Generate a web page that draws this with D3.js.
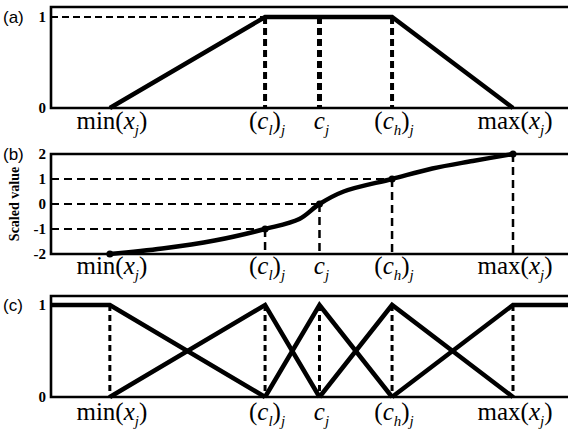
<!DOCTYPE html>
<html>
<head>
<meta charset="utf-8">
<script src="https://cdn.jsdelivr.net/npm/d3@7"></script>
<style>
  body { margin: 0; background: #fff; }
  svg { display: block; }
</style>
</head>
<body>
<svg id="chart" width="568" height="432"></svg>
<script>
// key points on the x axis (relative position, min = 0, max = 100)
const keyPos = [0, 38.5, 52, 70, 100];

// panel (a): trapezoid membership
const aX = [0, 38.5, 70, 100];
const aY = [0, 1, 1, 0];
const aTicks = [0, 1];

// panel (b): scaled value curve
const bX = [0, 13, 26, 38.5, 47, 52, 58, 70, 80, 90, 100];
const bY = [-2, -1.78, -1.46, -1, -0.6, 0, 0.5, 1, 1.42, 1.72, 2];
const bKeyY = [-2, -1, 0, 1, 2];
const bTicks = [-2, -1, 0, 1, 2];

// panel (c): five membership functions
const cSets = [
    { x: [-20, 0, 38.5], y: [1, 1, 0] },
    { x: [0, 38.5, 52], y: [0, 1, 0] },
    { x: [38.5, 52, 70], y: [0, 1, 0] },
    { x: [52, 70, 100], y: [0, 1, 0] },
    { x: [70, 100, 120], y: [0, 1, 1] }
];
const cTicks = [0, 1];

const svg = d3.select('#chart');
const x = d3.scaleLinear().domain([-14.6, 100]).range([51, 513]);
const xRight = 572;

const serif = '"Liberation Serif", "Times New Roman", Times, serif';

let line = d3.line()
    .x(function (d) { return x(d[0]); })
    .y(function (d) { return d[1]; });

// draws frame, ticks and panel letter, returns the y scale
function panel(letter, domain, yRange, top, ticks) {
    const y = d3.scaleLinear().domain(domain).range(yRange);
    const g = svg.append('g');
    // frame: top, left, bottom (open on the right)
    g.append('path')
        .attr('d', 'M' + xRight + ',' + top + 'H' + x.range()[0] + 'V' + y.range()[0] + 'H' + xRight)
        .attr('fill', 'none')
        .attr('stroke', '#000')
        .attr('stroke-width', 2.6);
    ticks.forEach(function (t) {
        g.append('text')
            .attr('x', 46)
            .attr('y', y(t))
            .attr('dy', '0.35em')
            .attr('text-anchor', 'end')
            .style('font-family', serif)
            .attr('font-weight', 'bold')
            .attr('font-size', 15)
            .text(t);
    });
    g.append('text')
        .attr('x', 3)
        .attr('y', y(ticks[ticks.length - 1]))
        .attr('dy', '0.35em')
        .style('font-family', 'Arial, "Liberation Sans", sans-serif')
        .attr('font-size', 17)
        .text('(' + letter + ')');
    return y;
}

// x labels: min(x_j), (c_l)_j, c_j, (c_h)_j, max(x_j)
function xLabels(baseY) {
    const parts = [
        [['min(', ''], ['x', 'i'], ['j', 'is'], [')', '']],
        [['(', ''], ['c', 'i'], ['l', 'is'], [')', ''], ['j', 'is']],
        [['c', 'i'], ['j', 'is']],
        [['(', ''], ['c', 'i'], ['h', 'is'], [')', ''], ['j', 'is']],
        [['max(', ''], ['x', 'i'], ['j', 'is'], [')', '']]
    ];
    parts.forEach(function (p, i) {
        const t = svg.append('text')
            .attr('x', x(keyPos[i]) + 2)
            .attr('y', baseY)
            .attr('text-anchor', 'middle')
            .style('font-family', serif)
            .attr('font-size', 25);
        let sub = false;
        p.forEach(function (s) {
            const ts = t.append('tspan').text(s[0]);
            if (s[1].indexOf('i') >= 0) ts.attr('font-style', 'italic');
            if (s[1] === 'is') {
                ts.attr('font-size', 15).attr('dy', sub ? 0 : 6);
                sub = true;
            } else if (sub) {
                ts.attr('dy', -6);
                sub = false;
            }
        });
    });
}

function dashed(x1, y1, x2, y2, w, dash) {
    svg.append('line')
        .attr('x1', x1).attr('y1', y1)
        .attr('x2', x2).attr('y2', y2)
        .attr('stroke', '#000')
        .attr('stroke-width', w)
        .attr('stroke-dasharray', dash);
}

// ---------- panel (a) ----------
const ya = panel('a', [0, 1], [108, 17], 7, aTicks);
dashed(x.range()[0], ya(1), x(keyPos[1]), ya(1), 2, '7,4');
[1, 2, 3].forEach(function (i) {
    dashed(x(keyPos[i]), ya(1), x(keyPos[i]), ya(0), i === 2 ? 5 : 4, '7,4');
});
svg.append('path')
    .attr('d', line(aX.map(function (v, i) { return [v, ya(aY[i])]; })))
    .attr('fill', 'none')
    .attr('stroke', '#000')
    .attr('stroke-width', 4.5);
xLabels(129);

// ---------- panel (b) ----------
const yb = panel('b', [-2, 2], [254, 154], 154, bTicks);
[1, 2, 3].forEach(function (i) {
    dashed(x.range()[0], yb(bKeyY[i]), x(keyPos[i]), yb(bKeyY[i]), 2, '8,5');
});
[1, 2, 3, 4].forEach(function (i) {
    dashed(x(keyPos[i]), yb(bKeyY[i]), x(keyPos[i]), yb(-2), 2.5, '8,5');
});
let smooth = d3.line()
    .x(function (d) { return x(d[0]); })
    .y(function (d) { return d[1]; })
    .curve(d3.curveCatmullRom.alpha(0.5));
svg.append('path')
    .attr('d', smooth(bX.map(function (v, i) { return [v, yb(bY[i])]; })))
    .attr('fill', 'none')
    .attr('stroke', '#000')
    .attr('stroke-width', 4.5)
    .attr('stroke-linecap', 'round');
keyPos.forEach(function (k, i) {
    svg.append('circle')
        .attr('cx', x(k))
        .attr('cy', yb(bKeyY[i]))
        .attr('r', 3.5)
        .attr('fill', '#000');
});
svg.append('text')
    .attr('transform', 'translate(19,' + yb(0) + ') rotate(-90)')
    .attr('text-anchor', 'middle')
    .style('font-family', serif)
    .attr('font-weight', 'bold')
    .attr('font-size', 14)
    .text('Scaled value');
xLabels(274);

// ---------- panel (c) ----------
const yc = panel('c', [0, 1], [397, 305], 296, cTicks);
keyPos.forEach(function (k) {
    dashed(x(k), yc(1), x(k), yc(0), 3, '6,4');
});
svg.append('clipPath').attr('id', 'clipc')
    .append('rect').attr('x', x.range()[0]).attr('y', 290).attr('width', 530).attr('height', 120);
cSets.forEach(function (s) {
    svg.append('path')
        .attr('clip-path', 'url(#clipc)')
        .attr('d', line(s.x.map(function (v, i) { return [v, yc(s.y[i])]; })))
        .attr('fill', 'none')
        .attr('stroke', '#000')
        .attr('stroke-width', 4.5);
});
xLabels(420);
</script>
</body>
</html>
